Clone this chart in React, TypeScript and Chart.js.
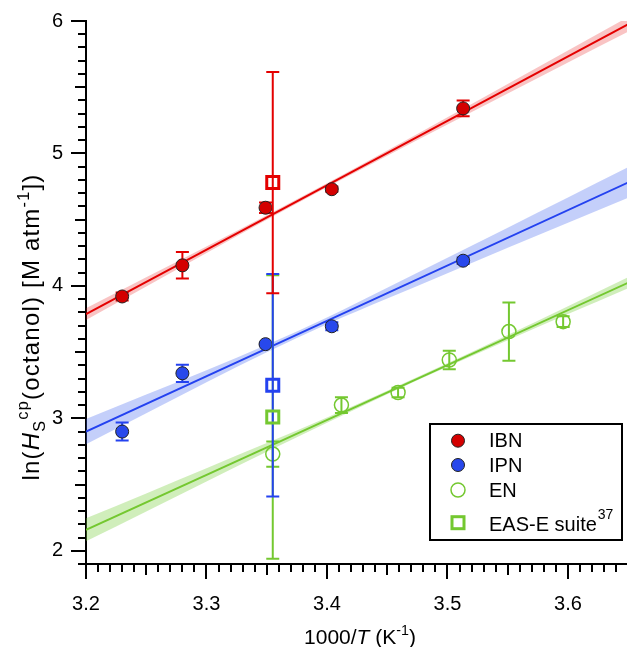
import React, { useEffect, useRef } from "react";
import { Chart, registerables } from "chart.js";

Chart.register(...registerables);

const FONT = "'Liberation Sans', Arial, sans-serif";

// ---- data ----
const IBN_X = [3.23, 3.28, 3.349, 3.404, 3.513];
const IBN_Y = [3.92, 4.155, 4.59, 4.73, 5.34];
const IBN_ERR = [0.03, 0.1, 0.04, 0.02, 0.06];

const IPN_X = [3.23, 3.28, 3.349, 3.404, 3.513];
const IPN_Y = [2.9, 3.34, 3.56, 3.695, 4.19];
const IPN_ERR = [0.068, 0.065, 0.01, 0.03, 0.025];

const EN_X = [3.355, 3.412, 3.459, 3.5015, 3.551, 3.596];
const EN_Y = [2.73, 3.1, 3.195, 3.44, 3.655, 3.73];
const EN_ERR = [0.095, 0.06, 0.035, 0.07, 0.22, 0.04];

const EASE_X = [3.355, 3.355, 3.355];
const EASE_Y = [3.01, 3.25, 4.78];
const EASE_ERR = [1.07, 0.84, 0.835];

// fitted lines (end points)
const FIT_X = [3.2, 3.65];
const IBN_FIT = [3.787, 5.975];
const IPN_FIT = [2.9, 4.781];
const EN_FIT = [2.158, 4.024];

// confidence bands
const BAND_X = [3.2, 3.25, 3.3, 3.35, 3.4, 3.45, 3.5, 3.55, 3.6, 3.65];
const IBN_BAND_LO = [3.742, 3.995, 4.248, 4.499, 4.744, 4.983, 5.218, 5.453, 5.687, 5.92];
const IBN_BAND_HI = [3.832, 4.065, 4.298, 4.533, 4.774, 5.023, 5.274, 5.525, 5.777, 6.03];
const IPN_BAND_LO = [2.805, 3.039, 3.273, 3.499, 3.711, 3.905, 4.096, 4.287, 4.477, 4.666];
const IPN_BAND_HI = [2.995, 3.179, 3.363, 3.555, 3.761, 3.985, 4.212, 4.439, 4.667, 4.896];
const EN_BAND_LO = [2.071, 2.297, 2.523, 2.747, 2.967, 3.182, 3.389, 3.59, 3.787, 3.982];
const EN_BAND_HI = [2.245, 2.433, 2.623, 2.813, 3.007, 3.208, 3.415, 3.63, 3.847, 4.066];

const X_TICKS = [3.2, 3.3, 3.4, 3.5, 3.6];
const Y_TICKS = [2, 3, 4, 5, 6];

const LEGEND_LABELS = ["IBN", "IPN", "EN", "EAS-E suite"];

// colours
const RED = "rgb(228,0,0)";
const BLUE = "rgb(36,66,240)";
const GREEN = "rgb(116,200,48)";
const RED_FILL = "rgb(212,0,0)";
const BLUE_FILL = "rgb(40,72,236)";
const EASE_COLORS = [GREEN, BLUE, RED];

const pts = (xs: number[], ys: number[]) => xs.map((x, i) => ({ x, y: ys[i] }));

function band(lo: number[], hi: number[], color: string, order: number) {
  return [
    {
      type: "line",
      data: pts(BAND_X, lo),
      borderWidth: 0,
      borderColor: "transparent",
      pointRadius: 0,
      fill: false,
      cubicInterpolationMode: "monotone",
      order,
    },
    {
      type: "line",
      data: pts(BAND_X, hi),
      borderWidth: 0,
      borderColor: "transparent",
      backgroundColor: color,
      pointRadius: 0,
      fill: "-1",
      cubicInterpolationMode: "monotone",
      order,
    },
  ];
}

function fitLine(ys: number[], color: string, order: number) {
  return {
    type: "line",
    data: pts(FIT_X, ys),
    borderColor: color,
    borderWidth: 2,
    pointRadius: 0,
    fill: false,
    order,
  };
}

const ticksPlugin = {
  id: "customTicks",
  afterDraw(chart: any) {
    const { ctx } = chart;
    const x = chart.scales.x;
    const y = chart.scales.y;
    ctx.save();
    ctx.strokeStyle = "#000";
    ctx.lineWidth = 2;
    ctx.beginPath();
    for (let k = 320; k <= 364; k++) {
      const px = Math.round(x.getPixelForValue(k / 100));
      const len = k % 10 === 0 ? 15 : k % 5 === 0 ? 11 : 8;
      ctx.moveTo(px, x.top);
      ctx.lineTo(px, x.top + len);
    }
    for (let k = 19; k <= 60; k++) {
      const py = Math.round(y.getPixelForValue(k / 10));
      const len = k % 10 === 0 ? 15 : k % 5 === 0 ? 11 : 8;
      ctx.moveTo(y.right - len, py);
      ctx.lineTo(y.right, py);
    }
    ctx.stroke();
    ctx.restore();
  },
};

const errorBarPlugin = {
  id: "errorBars",
  beforeDatasetDraw(chart: any, args: any) {
    const ds: any = chart.data.datasets[args.index];
    if (!ds.errors) return;
    const { ctx } = chart;
    const x = chart.scales.x;
    const y = chart.scales.y;
    ctx.save();
    ctx.lineWidth = 2;
    ds.data.forEach((p: any, i: number) => {
      const e = ds.errors[i];
      const px = x.getPixelForValue(p.x);
      const top = y.getPixelForValue(p.y + e);
      const bot = y.getPixelForValue(p.y - e);
      ctx.strokeStyle = Array.isArray(ds.errorColor) ? ds.errorColor[i] : ds.errorColor;
      ctx.beginPath();
      ctx.moveTo(px, top);
      ctx.lineTo(px, bot);
      ctx.moveTo(px - 6.5, top);
      ctx.lineTo(px + 6.5, top);
      ctx.moveTo(px - 6.5, bot);
      ctx.lineTo(px + 6.5, bot);
      ctx.stroke();
    });
    ctx.restore();
  },
};

type Part = { t: string; italic?: boolean; scale?: number; shift?: number };

function setFont(ctx: any, p: Part, size: number, spacing: number) {
  const s = size * (p.scale ?? 1);
  ctx.font = `${p.italic ? "italic " : ""}${s}px ${FONT}`;
  ctx.letterSpacing = `${spacing}px`;
}

function partsWidth(ctx: CanvasRenderingContext2D, parts: Part[], size: number, spacing: number) {
  let w = 0;
  for (const p of parts) {
    setFont(ctx, p, size, spacing);
    w += ctx.measureText(p.t).width;
  }
  return w;
}

function drawParts(ctx: CanvasRenderingContext2D, parts: Part[], x: number, y: number, size: number, spacing: number) {
  let cx = x;
  for (const p of parts) {
    setFont(ctx, p, size, spacing);
    ctx.fillText(p.t, cx, y + (p.shift ?? 0) * size);
    cx += ctx.measureText(p.t).width;
  }
}

const X_TITLE: Part[] = [
  { t: "1000/" },
  { t: "T", italic: true },
  { t: " (K" },
  { t: "-1", scale: 0.68, shift: -0.42 },
  { t: ")" },
];

const Y_TITLE: Part[] = [
  { t: "ln(" },
  { t: "H", italic: true },
  { t: "S", scale: 0.68, shift: 0.25 },
  { t: "cp", scale: 0.68, shift: -0.45 },
  { t: "(octanol) [M atm" },
  { t: "-1", scale: 0.68, shift: -0.42 },
  { t: "])" },
];

const titlesPlugin = {
  id: "titles",
  afterDraw(chart: any) {
    const { ctx } = chart;
    ctx.save();
    ctx.fillStyle = "#000";
    ctx.textBaseline = "alphabetic";
    ctx.textAlign = "left";
    const xs = 21;
    const xw = partsWidth(ctx, X_TITLE, xs, 0);
    drawParts(ctx, X_TITLE, 360 - xw / 2, 644, xs, 0);

    const ys = 24;
    const yw = partsWidth(ctx, Y_TITLE, ys, 1.2);
    ctx.translate(39, 327);
    ctx.rotate(-Math.PI / 2);
    drawParts(ctx, Y_TITLE, -yw / 2, 0, ys, 1.2);
    ctx.restore();
  },
};

const legendPlugin = {
  id: "customLegend",
  afterDraw(chart: any) {
    const { ctx } = chart;
    ctx.save();
    ctx.fillStyle = "#fff";
    ctx.fillRect(430, 424, 192, 116);
    ctx.strokeStyle = "#000";
    ctx.lineWidth = 2;
    ctx.strokeRect(430, 424, 192, 116);

    const mx = 458;
    const rows = [440.7, 465, 490, 522.7];
    const base = [447.3, 471.7, 496.7, 530.7];

    ctx.beginPath();
    ctx.arc(mx, rows[0], 6.5, 0, Math.PI * 2);
    ctx.fillStyle = RED_FILL;
    ctx.fill();
    ctx.lineWidth = 1;
    ctx.strokeStyle = "#222";
    ctx.stroke();
    ctx.beginPath();
    ctx.arc(mx, rows[1], 6.5, 0, Math.PI * 2);
    ctx.fillStyle = BLUE_FILL;
    ctx.fill();
    ctx.stroke();
    ctx.beginPath();
    ctx.arc(mx, rows[2], 7, 0, Math.PI * 2);
    ctx.lineWidth = 1.5;
    ctx.strokeStyle = GREEN;
    ctx.stroke();
    ctx.lineWidth = 3;
    ctx.strokeRect(mx - 6, rows[3] - 6, 12, 12);

    ctx.fillStyle = "#000";
    ctx.textAlign = "left";
    ctx.textBaseline = "alphabetic";
    ctx.font = `20px ${FONT}`;
    LEGEND_LABELS.forEach((l, i) => ctx.fillText(l, 489, base[i]));
    const w = ctx.measureText(LEGEND_LABELS[3]).width;
    ctx.font = `14px ${FONT}`;
    ctx.fillText("37", 489 + w + 1, 519.3);
    ctx.restore();
  },
};

export default function App() {
  const ref = useRef<HTMLCanvasElement>(null);
  useEffect(() => {
    const datasets: any[] = [
      ...band(EN_BAND_LO, EN_BAND_HI, "rgba(120,205,60,0.35)", 12),
      ...band(IPN_BAND_LO, IPN_BAND_HI, "rgba(60,95,240,0.3)", 11),
      ...band(IBN_BAND_LO, IBN_BAND_HI, "rgba(230,20,20,0.25)", 10),
      fitLine(EN_FIT, GREEN, 9),
      fitLine(IPN_FIT, BLUE, 8),
      fitLine(IBN_FIT, RED, 7),
      {
        type: "scatter",
        data: pts(EN_X, EN_Y),
        pointStyle: "circle",
        pointRadius: 7,
        pointBorderWidth: 1.5,
        pointBorderColor: GREEN,
        pointBackgroundColor: "transparent",
        errors: EN_ERR,
        errorColor: GREEN,
        order: 4,
      },
      {
        type: "scatter",
        data: pts(IPN_X, IPN_Y),
        pointStyle: "circle",
        pointRadius: 6.5,
        pointBorderWidth: 1,
        pointBorderColor: "#222",
        pointBackgroundColor: BLUE_FILL,
        errors: IPN_ERR,
        errorColor: BLUE,
        order: 3,
      },
      {
        type: "scatter",
        data: pts(IBN_X, IBN_Y),
        pointStyle: "circle",
        pointRadius: 6.5,
        pointBorderWidth: 1,
        pointBorderColor: "#222",
        pointBackgroundColor: RED_FILL,
        errors: IBN_ERR,
        errorColor: RED,
        order: 2,
      },
      {
        type: "scatter",
        data: pts(EASE_X, EASE_Y),
        pointStyle: "rect",
        pointRadius: 8.5,
        pointBorderWidth: 3,
        pointBorderColor: EASE_COLORS,
        pointBackgroundColor: "transparent",
        errors: EASE_ERR,
        errorColor: EASE_COLORS,
        order: 1,
      },
    ];

    const tickFont = { family: FONT, size: 20 };
    const chart = new Chart(ref.current as HTMLCanvasElement, {
      type: "scatter",
      data: { datasets },
      options: {
        responsive: false,
        animation: false,
        layout: { autoPadding: false, padding: { top: 21, right: 0, left: 0, bottom: 0 } },
        plugins: { legend: { display: false }, tooltip: { enabled: false } },
        scales: {
          x: {
            type: "linear",
            min: 3.2,
            max: 3.649,
            afterBuildTicks: (s: any) => {
              s.ticks = X_TICKS.map((v) => ({ value: v }));
            },
            afterFit: (s: any) => {
              s.height = 83;
              s.paddingLeft = 0;
              s.paddingRight = 0;
            },
            grid: { display: true, drawOnChartArea: false, drawTicks: true, tickLength: 15, color: "rgba(0,0,0,0)" },
            border: { display: true, color: "#000", width: 2 },
            ticks: {
              font: tickFont,
              color: "#000",
              padding: 13,
              maxRotation: 0,
              autoSkip: false,
              callback: (v: any) => Number(v).toFixed(1),
            },
          },
          y: {
            type: "linear",
            min: 1.9,
            max: 6,
            afterBuildTicks: (s: any) => {
              s.ticks = Y_TICKS.map((v) => ({ value: v }));
            },
            afterFit: (s: any) => {
              s.width = 86;
              s.paddingTop = 0;
              s.paddingBottom = 0;
            },
            grid: { display: true, drawOnChartArea: false, drawTicks: true, tickLength: 15, color: "rgba(0,0,0,0)" },
            border: { display: true, color: "#000", width: 2 },
            ticks: {
              font: tickFont,
              color: "#000",
              padding: 8,
              autoSkip: false,
              callback: (v: any) => String(v),
            },
          },
        },
      } as any,
      plugins: [errorBarPlugin, ticksPlugin, titlesPlugin, legendPlugin],
    } as any);
    return () => chart.destroy();
  }, []);

  return (
    <div style={{ position: "absolute", left: 0, top: 0, width: 627, height: 647, background: "#fff" }}>
      <canvas ref={ref} width={627} height={647} style={{ display: "block" }} />
    </div>
  );
}
